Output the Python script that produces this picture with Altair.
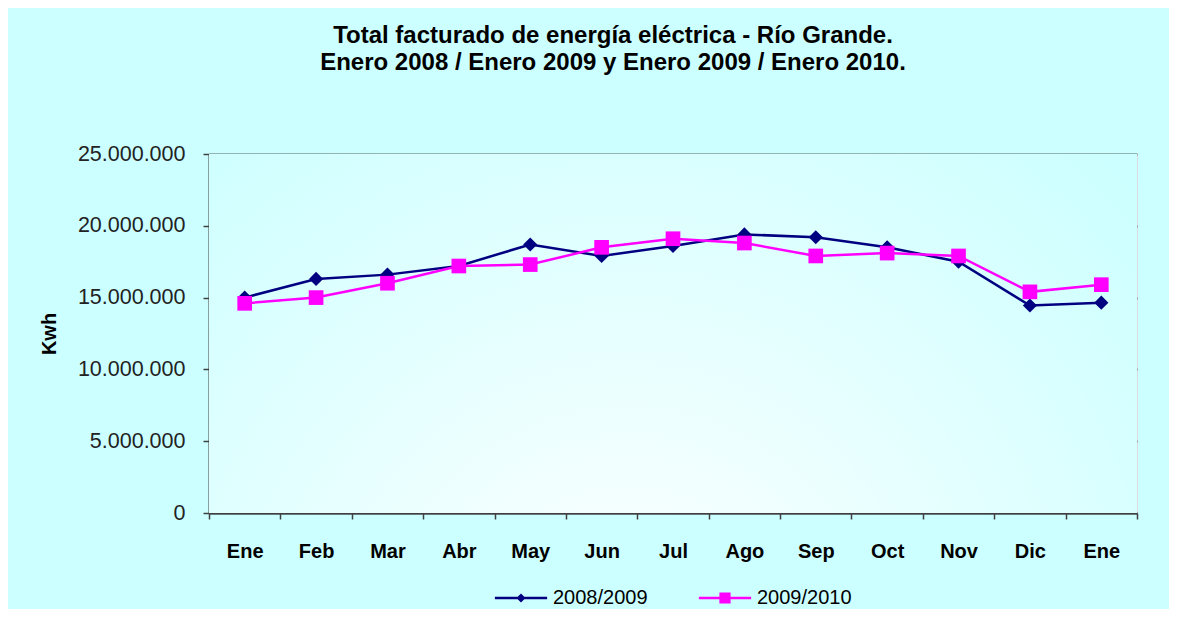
import altair as alt
import pandas as pd

months = ["Ene", "Feb", "Mar", "Abr", "May", "Jun", "Jul", "Ago", "Sep", "Oct", "Nov", "Dic", "Ene"]
serie_a = "2008/2009"
serie_b = "2009/2010"
vals_a = [15.0, 16.3, 16.6, 17.2, 18.7, 17.9, 18.6, 19.4, 19.2, 18.5, 17.5, 14.45, 14.65]
vals_b = [14.6, 15.0, 16.0, 17.2, 17.3, 18.5, 19.1, 18.8, 17.9, 18.1, 17.9, 15.4, 15.9]

rows = []
for i, m in enumerate(months):
    rows.append({"k": i, "mes": m, "serie": serie_a, "kwh": vals_a[i] * 1e6})
    rows.append({"k": i, "mes": m, "serie": serie_b, "kwh": vals_b[i] * 1e6})
df = pd.DataFrame(rows)

FONT = "Liberation Sans"
NAVY = "#000080"
MAG = "#FF00FF"
label_expr = "[" + ",".join("'" + m + "'" for m in months) + "][datum.value]"

x_enc = alt.X(
    "k:O",
    scale=alt.Scale(type="band", paddingInner=0, paddingOuter=0),
    axis=alt.Axis(
        title=None, labelExpr=label_expr, labelAngle=0, tickBand="extent",
        labelFont=FONT, labelFontSize=20, labelFontWeight="bold", labelColor="black",
        labelPadding=22, tickSize=6, tickColor="#404040", tickWidth=1.5,
        domainColor="#404040", domainWidth=2, grid=False,
    ),
)
y_enc = alt.Y(
    "kwh:Q",
    scale=alt.Scale(domain=[0, 25e6], nice=False),
    axis=alt.Axis(
        title="Kwh", values=[0, 5e6, 10e6, 15e6, 20e6, 25e6], format=",d",
        labelFont=FONT, labelFontSize=21.5, labelColor="#222222", labelPadding=18,
        titleFont=FONT, titleFontSize=20, titleFontWeight="bold", titleColor="black",
        titlePadding=18, tickSize=6, tickColor="#404040", tickWidth=1.5,
        domainColor="#404040", domainWidth=2,
        grid=True, gridColor="#5A6868", gridWidth=2,
    ),
)
color_scale = alt.Scale(domain=[serie_a, serie_b], range=[NAVY, MAG])

bg = alt.Chart(pd.DataFrame({"a": [0]})).mark_rect(
    fill={"gradient": "radial", "x1": 0.45, "y1": 0.85, "r1": 0,
          "x2": 0.45, "y2": 0.85, "r2": 0.75,
          "stops": [{"offset": 0, "color": "#FFFFFF"}, {"offset": 1, "color": "#CCFFFF"}]},
).encode(x=alt.value(0), x2=alt.value("width"), y=alt.value(0), y2=alt.value("height"))

lines = alt.Chart(df).mark_line(strokeWidth=2.5).encode(
    x=x_enc, y=y_enc,
    color=alt.Color("serie:N", scale=color_scale, legend=None),
)
pts_a = alt.Chart(df).transform_filter(alt.datum.serie == serie_a).mark_point(
    filled=True, opacity=1, shape="diamond", size=200, color=NAVY
).encode(x=x_enc, y=y_enc)
pts_b = alt.Chart(df).transform_filter(alt.datum.serie == serie_b).mark_point(
    filled=True, opacity=1, shape="square", size=215, color=MAG
).encode(x=x_enc, y=y_enc)

path_a = "M-2.05,-0.09H2.05V0.09H-2.05ZM0,-0.36L0.36,0L0,0.36L-0.36,0Z"
path_b = "M-2.05,-0.09H2.05V0.09H-2.05ZM-0.44,-0.44H0.44V0.44H-0.44Z"


def legend_for(serie, path, colr, lx):
    leg = alt.Legend(
        title=None, orient="none", legendX=lx, legendY=431, direction="horizontal",
        symbolSize=650, symbolStrokeWidth=0, symbolOpacity=1,
        symbolFillColor=colr, symbolStrokeColor=colr,
        labelFont=FONT, labelFontSize=20, labelColor="black", labelOffset=19, padding=0,
    )
    return alt.Chart(df).transform_filter(alt.datum.serie == serie).mark_point(
        filled=True, opacity=0, fill=colr
    ).encode(
        x=x_enc, y=y_enc,
        shape=alt.Shape("serie:N", scale=alt.Scale(domain=[serie], range=[path]), legend=leg),
    )


leg_a = legend_for(serie_a, path_a, NAVY, 299)
leg_b = legend_for(serie_b, path_b, MAG, 503)

chart = alt.layer(bg, lines, pts_a, pts_b, leg_a, leg_b).resolve_scale(shape="independent").properties(
    width=928,
    height=359,
    autosize=alt.AutoSizeParams(type="none"),
    padding={"left": 201, "top": 146, "right": 32, "bottom": 96},
    background="#CCFFFF",
    title=alt.TitleParams(
        text=["Total facturado de energía eléctrica - Río Grande.",
              "Enero 2008 / Enero 2009 y Enero 2009 / Enero 2010."],
        font=FONT, fontSize=24, fontWeight="bold", color="black",
        anchor="middle", dx=-60, offset=68, lineHeight=27,
    ),
).configure_view(
    stroke="#808080", strokeWidth=2.5,
).configure(
    locale={"number": {"decimal": ",", "thousands": ".", "grouping": [3], "currency": ["", ""]}}
)

chart.save("out.html", embed_options={"renderer": "svg", "actions": False})
